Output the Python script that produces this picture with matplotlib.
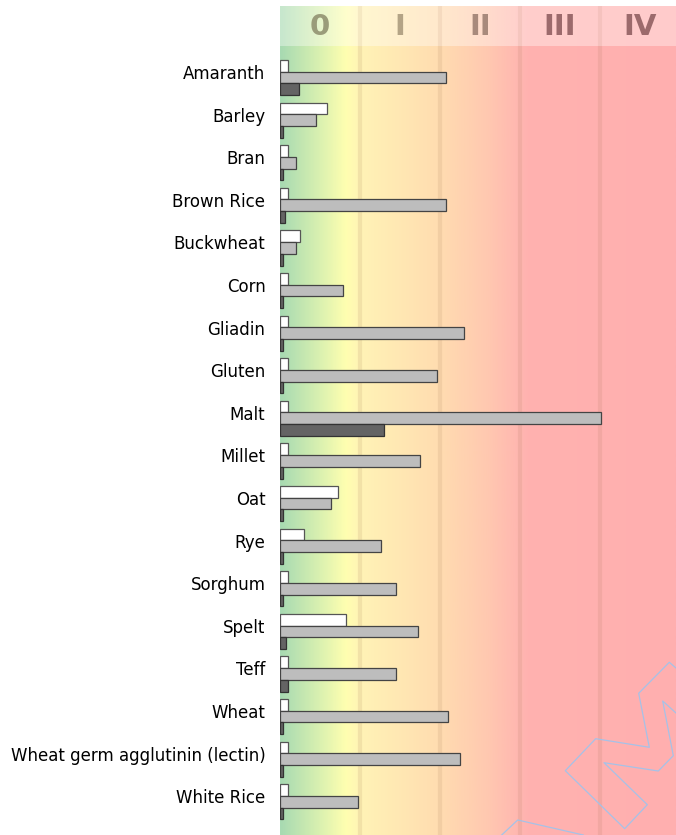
import numpy as np
import matplotlib
matplotlib.use("Agg")
import matplotlib.pyplot as plt
from matplotlib.colors import LinearSegmentedColormap
from matplotlib.transforms import ScaledTranslation
from matplotlib.lines import Line2D

categories = ["Amaranth", "Barley", "Bran", "Brown Rice", "Buckwheat", "Corn",
              "Gliadin", "Gluten", "Malt", "Millet", "Oat", "Rye", "Sorghum",
              "Spelt", "Teff", "Wheat", "Wheat germ agglutinin (lectin)", "White Rice"]
series_white = [0.10, 0.59, 0.10, 0.10, 0.25, 0.10, 0.10, 0.10, 0.10, 0.10,
                0.72, 0.30, 0.10, 0.82, 0.10, 0.10, 0.10, 0.10]
series_gray = [2.08, 0.45, 0.20, 2.08, 0.20, 0.79, 2.30, 1.96, 4.01, 1.75,
               0.64, 1.26, 1.45, 1.72, 1.45, 2.10, 2.25, 0.97]
series_dark = [0.24, 0.04, 0.04, 0.06, 0.04, 0.04, 0.04, 0.04, 1.30, 0.04,
               0.04, 0.04, 0.04, 0.08, 0.10, 0.04, 0.04, 0.04]
class_labels = ["0", "I", "II", "III", "IV"]
class_colors = ["#9a9c7a", "#b4a486", "#a88a7c", "#9c6a6c", "#9c6a6c"]

W, H = 676, 835
fig = plt.figure(figsize=(W / 100, H / 100), dpi=100)

XMAX = 396 / 80.0
stops = [(0.0, "#a8dab2"), (0.45 / XMAX, "#d6efb0"), (0.82 / XMAX, "#ffffb0"),
         (1.0 / XMAX, "#fff3b6"), (2.0 / XMAX, "#ffdcb0"), (2.6 / XMAX, "#ffc8b0"),
         (3.1 / XMAX, "#ffb2b0"), (1.0, "#ffafaf")]
cmap = LinearSegmentedColormap.from_list("bg", stops)
grad = np.linspace(0, 1, 600).reshape(1, -1)

# main axes
ax = fig.add_axes([280 / W, 0, 396 / W, (H - 46) / H])
n = len(categories)
y = np.arange(n)
h = 0.275
ylo, yhi = -0.74, 17.78
ax.imshow(grad, cmap=cmap, aspect="auto", extent=[0, XMAX, yhi, ylo], zorder=0)
for xv in [1, 2, 3, 4]:
    ax.axvline(xv, color="#a07050", alpha=0.13, lw=3, zorder=1)
ax.barh(y - h, series_white, height=h, left=0, color="white", edgecolor="#555555", lw=0.9, zorder=3)
ax.barh(y, series_gray, height=h, left=0, color="#bdbdbd", edgecolor="#444444", lw=0.9, zorder=3)
ax.barh(y + h, series_dark, height=h, left=0, color="#646464", edgecolor="#333333", lw=0.9, zorder=3)
ax.set_xlim(0, XMAX)
ax.set_ylim(yhi, ylo)
ax.set_xticks([])
ax.set_yticks(y, labels=categories, fontsize=12, family="DejaVu Sans")
ax.tick_params(axis="y", length=0, pad=10.5)
off = ScaledTranslation(0, 5.5 / 100, fig.dpi_scale_trans)
for lbl in ax.get_yticklabels():
    lbl.set_transform(lbl.get_transform() + off)
for s in ax.spines.values():
    s.set_visible(False)

# header
hd = fig.add_axes([280 / W, (H - 46) / H, 396 / W, 40 / H])
hd.imshow(grad, cmap=cmap, aspect="auto", extent=[0, XMAX, 0, 1], zorder=0)
hd.axvspan(0, XMAX, color="white", alpha=0.36, zorder=1, lw=0)
for xv in [1, 2, 3, 4]:
    hd.axvline(xv, color="#a07050", alpha=0.10, lw=3, zorder=2)
for i, (lab, col) in enumerate(zip(class_labels, class_colors)):
    hd.text(i + 0.5, 0.47, lab, ha="center", va="center", fontsize=21,
            fontweight="bold", color=col, zorder=3)
hd.set_xlim(0, XMAX)
hd.set_ylim(0, 1)
hd.axis("off")

# watermark outline (decoration)
def px(pts):
    xs = [p[0] / W for p in pts]
    ys = [1 - p[1] / H for p in pts]
    return xs, ys

wm1 = [(676, 668), (669.3, 662.3), (638.7, 693.3), (649.3, 747.3), (595.7, 738.7),
       (565.3, 770.7), (624.7, 828.7), (647.3, 804.7), (604, 762.7), (658.3, 771),
       (673.3, 755.7), (662.7, 701), (676, 713)]
wm2 = [(501.7, 835), (517.7, 820), (583.3, 835)]
for pts in (wm1, wm2):
    xs, ys = px(pts)
    fig.add_artist(Line2D(xs, ys, transform=fig.transFigure, color="#9cc4ee",
                          lw=0.9, alpha=0.9, zorder=10))

fig.savefig("out.png", dpi=100)
